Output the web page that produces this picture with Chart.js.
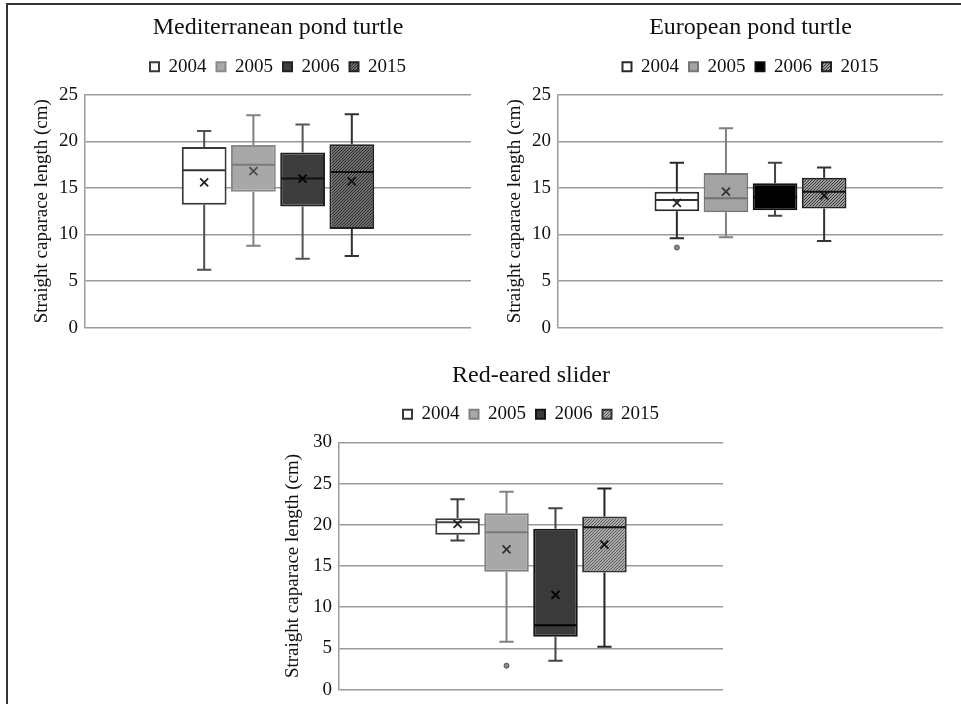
<!DOCTYPE html>
<html>
<head>
<meta charset="utf-8">
<script src="https://cdn.jsdelivr.net/npm/chart.js@4.4.0/dist/chart.umd.min.js"></script>
<style>
  html, body { margin: 0; padding: 0; background: #fff; }
  body { width: 961px; height: 704px; position: relative; overflow: hidden; }
  #frame { position: absolute; left: 6px; top: 3px; width: 970px; height: 720px;
           border-top: 2px solid #333; border-left: 2px solid #333; }
  canvas { position: absolute; }
</style>
</head>
<body>
<div id="frame"></div>
<canvas id="medChart" width="448" height="341" style="left:25px;top:5px"></canvas>
<canvas id="eurChart" width="447" height="341" style="left:498px;top:5px"></canvas>
<canvas id="resChart" width="446" height="356" style="left:279px;top:352px"></canvas>
<script>
const years = ['2004', '2005', '2006', '2015'];
const yTitle = 'Straight caparace length (cm)';

// Mediterranean pond turtle
const medMin = [6.2, 8.8, 7.4, 7.7];
const medQ1 = [13.2, 14.6, 13.0, 10.6];
const medMedian = [16.9, 17.5, 16.0, 16.7];
const medQ3 = [19.4, 19.6, 18.8, 19.7];
const medMax = [21.1, 22.8, 21.8, 22.9];
const medMean = [15.6, 16.8, 16.0, 15.7];
const medOutliers = [[], [], [], []];
const medYMax = 25;

// European pond turtle
const eurMin = [9.6, 9.7, 12.0, 9.3];
const eurQ1 = [12.5, 12.4, 12.6, 12.8];
const eurMedian = [13.7, 13.9, 14.0, 14.6];
const eurQ3 = [14.6, 16.6, 15.5, 16.1];
const eurMax = [17.7, 21.4, 17.7, 17.2];
const eurMean = [13.4, 14.6, 14.0, 14.2];
const eurOutliers = [[8.6], [], [], []];
const eurYMax = 25;

// Red-eared slider
const resMin = [18.1, 5.8, 3.5, 5.2];
const resQ1 = [18.8, 14.3, 6.4, 14.2];
const resMedian = [20.3, 19.1, 7.8, 19.7];
const resQ3 = [20.8, 21.4, 19.5, 21.0];
const resMax = [23.1, 24.0, 22.0, 24.4];
const resMean = [20.1, 17.0, 11.5, 17.6];
const resOutliers = [[], [2.9], [], []];
const resYMax = 30;

const serif = "'Liberation Serif', 'Times New Roman', serif";

// diagonal hatch used for the 2015 boxes
function hatch(bg, fg) {
    const c = document.createElement('canvas');
    c.width = 3; c.height = 3;
    const g = c.getContext('2d');
    g.fillStyle = bg;
    g.fillRect(0, 0, 3, 3);
    g.strokeStyle = fg;
    g.lineWidth = 1.1;
    g.beginPath();
    g.moveTo(-1, 4); g.lineTo(4, -1);
    g.moveTo(-1, 1); g.lineTo(1, -1);
    g.moveTo(2, 4); g.lineTo(4, 2);
    g.stroke();
    return g.createPattern(c, 'repeat');
}

// box plot extras drawn on top of the floating bars (whiskers, median, mean, outliers)
const boxPlotPlugin = {
    id: 'boxPlot',
    afterLayout(chart) {
        // title and legend sit centred over the plot area in the original
        const area = chart.chartArea;
        [chart.titleBlock, chart.legend].forEach(b => {
            if (b) { b.left = area.left; b.right = area.right; }
        });
    },
    afterDatasetsDraw(chart) {
        const ctx = chart.ctx;
        const yScale = chart.scales.y;
        const py = v => yScale.getPixelForValue(v);
        chart.data.datasets.forEach((ds, i) => {
            const bar = chart.getDatasetMeta(i).data[0];
            const st = ds.stats;
            const x = bar.x, half = bar.width / 2, cap = bar.width * 0.16;
            ctx.save();
            ctx.lineWidth = 2;
            ctx.strokeStyle = ds.whiskerColor;
            ctx.beginPath();
            ctx.moveTo(x, py(ds.data[0][1])); ctx.lineTo(x, py(st.max));
            ctx.moveTo(x - cap, py(st.max)); ctx.lineTo(x + cap, py(st.max));
            ctx.moveTo(x, py(ds.data[0][0])); ctx.lineTo(x, py(st.min));
            ctx.moveTo(x - cap, py(st.min)); ctx.lineTo(x + cap, py(st.min));
            ctx.stroke();

            ctx.strokeStyle = ds.medianColor;
            ctx.beginPath();
            ctx.moveTo(x - half + 1, py(st.median));
            ctx.lineTo(x + half - 1, py(st.median));
            ctx.stroke();

            const m = py(st.mean);
            ctx.strokeStyle = ds.meanColor;
            ctx.lineWidth = 1.8;
            ctx.beginPath();
            ctx.moveTo(x - 4, m - 4); ctx.lineTo(x + 4, m + 4);
            ctx.moveTo(x + 4, m - 4); ctx.lineTo(x - 4, m + 4);
            ctx.stroke();

            st.outliers.forEach(v => {
                ctx.beginPath();
                ctx.arc(x, py(v), 2.5, 0, Math.PI * 2);
                ctx.fillStyle = '#8a8a8a';
                ctx.fill();
                ctx.lineWidth = 1;
                ctx.strokeStyle = '#555';
                ctx.stroke();
            });
            ctx.restore();
        });
    }
};

function makeChart(id, title, d, yMax, looks, opts) {
    const datasets = years.map((year, i) => ({
        label: year,
        data: [[d.q1[i], d.q3[i]]],
        stats: { min: d.min[i], median: d.median[i], max: d.max[i], mean: d.mean[i], outliers: d.outliers[i] },
        backgroundColor: looks[i].fill,
        borderColor: looks[i].border,
        borderWidth: 2,
        borderSkipped: false,
        whiskerColor: looks[i].whisker,
        medianColor: looks[i].median,
        meanColor: looks[i].mean
    }));

    return new Chart(document.getElementById(id), {
        type: 'bar',
        data: { labels: [''], datasets },
        options: {
            responsive: false,
            animation: false,
            layout: { padding: { left: 0, right: 2, top: 0, bottom: 2 } },
            datasets: { bar: { categoryPercentage: 0.51, barPercentage: 0.91 } },
            scales: {
                // no category labels; the axis only keeps a gap under the legend
                x: {
                    position: 'top',
                    ticks: { display: false },
                    grid: { display: false },
                    border: { display: false },
                    afterFit: s => { s.height = 8.5; }
                },
                y: {
                    min: 0,
                    max: yMax,
                    ticks: { stepSize: 5, padding: 7, color: '#111', font: { family: serif, size: 19 } },
                    grid: { color: '#9a9a9a', lineWidth: 1.5, drawTicks: false },
                    border: { color: '#9a9a9a', width: 1.5 },
                    title: {
                        display: true,
                        text: yTitle,
                        color: '#111',
                        font: { family: serif, size: 19 },
                        padding: { top: opts.yTitlePad, bottom: 0 }
                    },
                    afterFit: s => { s.width = 60; }
                }
            },
            plugins: {
                title: {
                    display: true,
                    text: title,
                    color: '#111',
                    font: { family: serif, size: 24, weight: 'normal' },
                    padding: { top: opts.titlePadTop, bottom: 5 }
                },
                legend: {
                    labels: {
                        boxWidth: 9,
                        boxHeight: 9,
                        padding: 10,
                        color: '#111',
                        font: { family: serif, size: 19 }
                    }
                },
                tooltip: { enabled: false }
            }
        },
        plugins: [boxPlotPlugin]
    });
}

const medLooks = [
    { fill: '#ffffff', border: '#3a3a3a', whisker: '#505050', median: '#333333', mean: '#222222' },
    { fill: '#a8a8a8', border: '#8a8a8a', whisker: '#808080', median: '#7a7a7a', mean: '#4a4a4a' },
    { fill: '#3d3d3d', border: '#222222', whisker: '#555555', median: '#111111', mean: '#000000' },
    { fill: hatch('#8a8a8a', '#2a2a2a'), border: '#222222', whisker: '#333333', median: '#111111', mean: '#111111' }
];
const eurLooks = [
    { fill: '#ffffff', border: '#2a2a2a', whisker: '#2a2a2a', median: '#333333', mean: '#222222' },
    { fill: '#a3a3a3', border: '#777777', whisker: '#808080', median: '#707070', mean: '#333333' },
    { fill: '#000000', border: '#111111', whisker: '#444444', median: '#000000', mean: '#000000' },
    { fill: hatch('#c8c8c8', '#333333'), border: '#222222', whisker: '#333333', median: '#111111', mean: '#111111' }
];
const resLooks = [
    { fill: '#ffffff', border: '#3a3a3a', whisker: '#404040', median: '#444444', mean: '#222222' },
    { fill: '#a8a8a8', border: '#808080', whisker: '#808080', median: '#7a7a7a', mean: '#333333' },
    { fill: '#3a3a3a', border: '#151515', whisker: '#444444', median: '#000000', mean: '#000000' },
    { fill: hatch('#cfcfcf', '#555555'), border: '#333333', whisker: '#222222', median: '#111111', mean: '#111111' }
];

makeChart('medChart', 'Mediterranean pond turtle',
    { min: medMin, q1: medQ1, median: medMedian, q3: medQ3, max: medMax, mean: medMean, outliers: medOutliers },
    medYMax, medLooks, { yTitlePad: 6, titlePadTop: 8.5 });
makeChart('eurChart', 'European pond turtle',
    { min: eurMin, q1: eurQ1, median: eurMedian, q3: eurQ3, max: eurMax, mean: eurMean, outliers: eurOutliers },
    eurYMax, eurLooks, { yTitlePad: 6, titlePadTop: 8.5 });
makeChart('resChart', 'Red-eared slider',
    { min: resMin, q1: resQ1, median: resMedian, q3: resQ3, max: resMax, mean: resMean, outliers: resOutliers },
    resYMax, resLooks, { yTitlePad: 3, titlePadTop: 9 });
</script>
</body>
</html>
